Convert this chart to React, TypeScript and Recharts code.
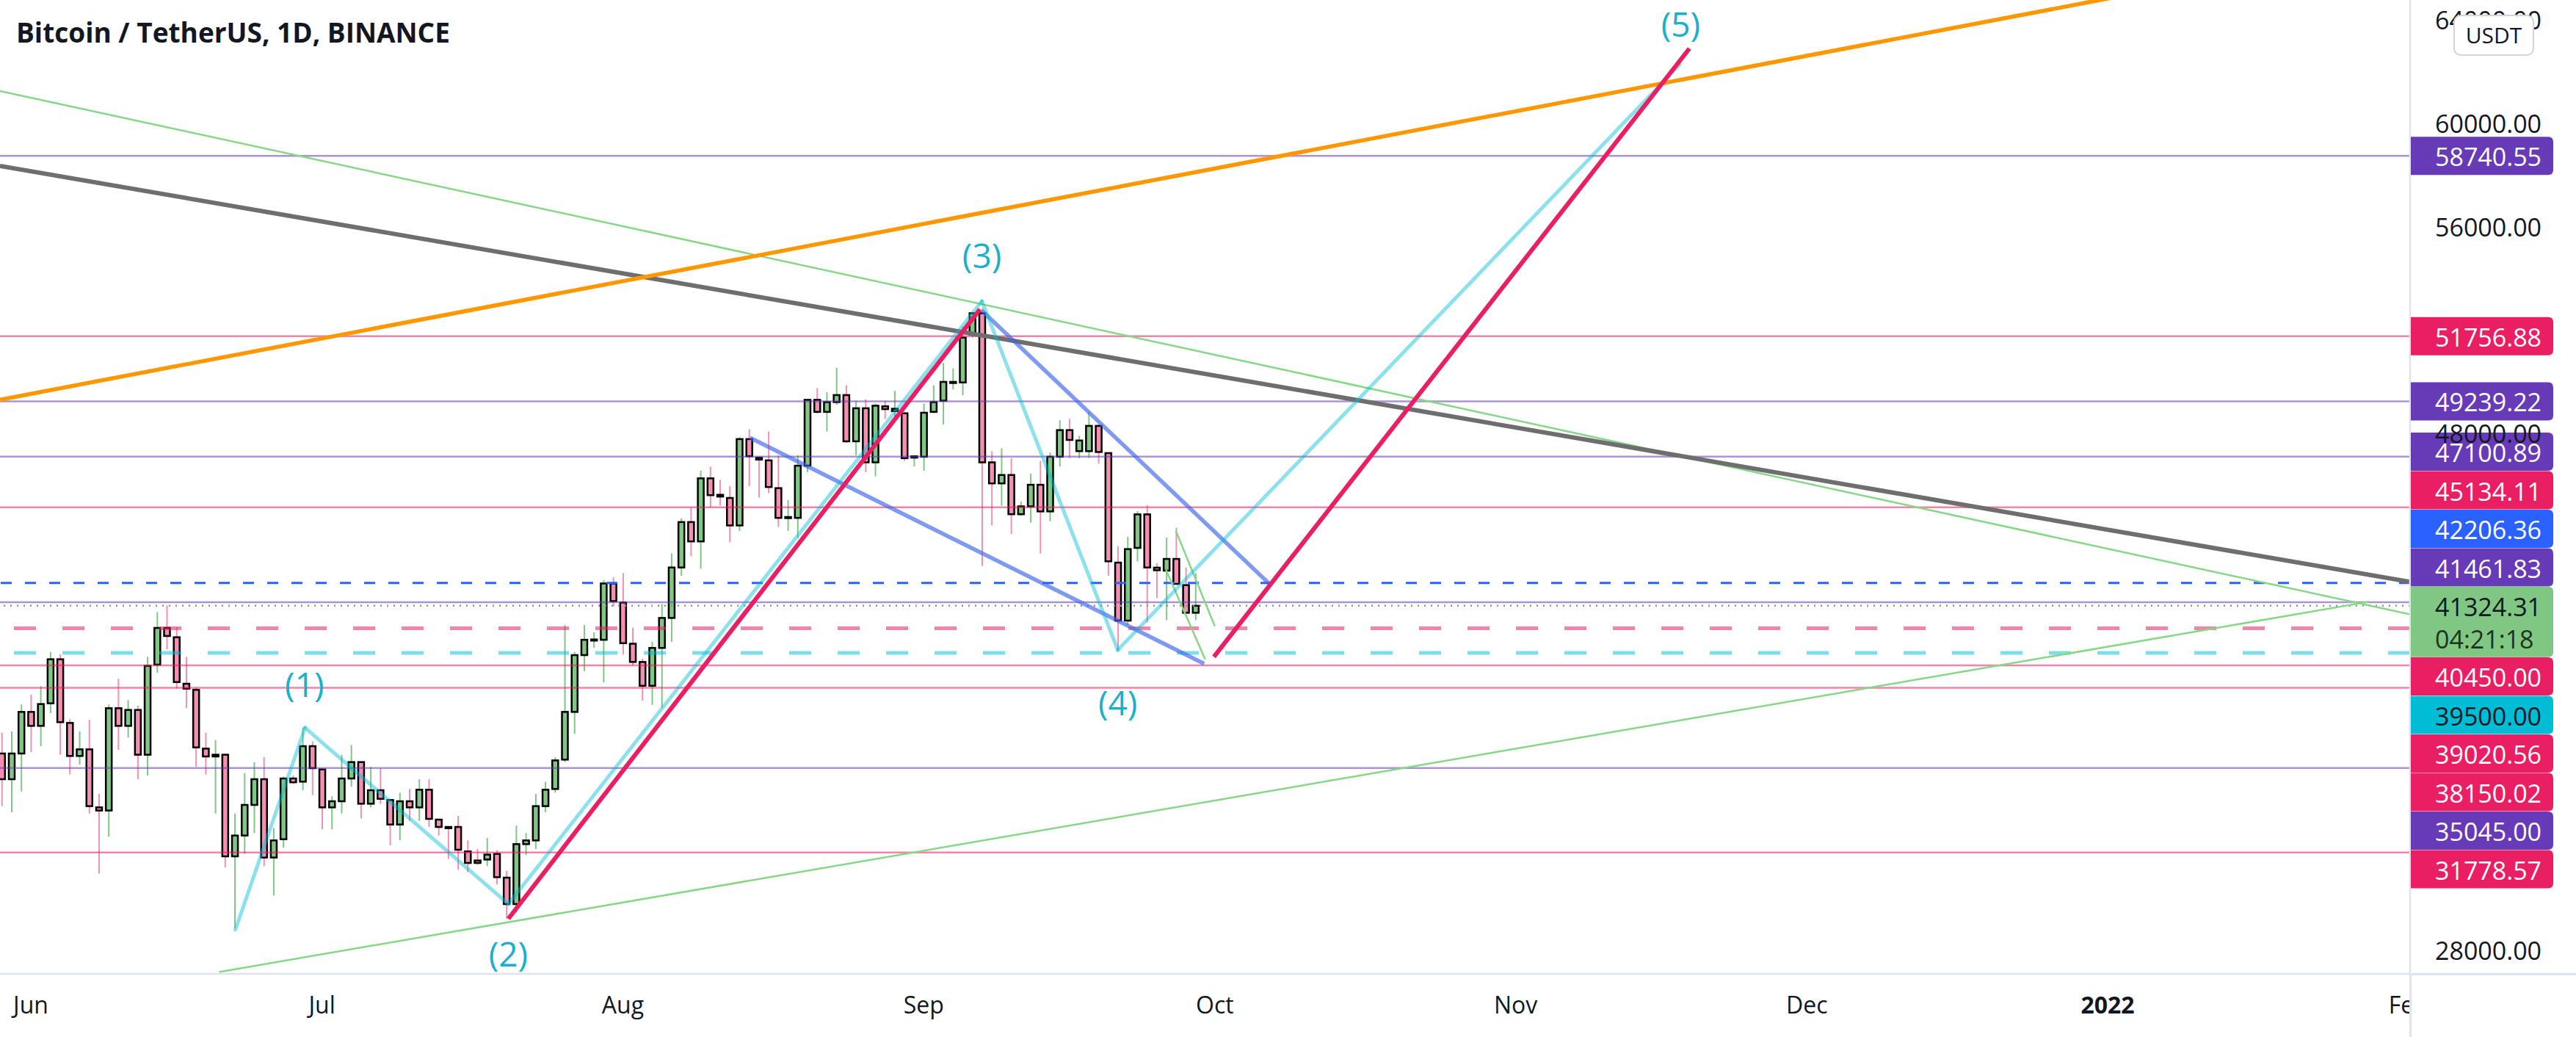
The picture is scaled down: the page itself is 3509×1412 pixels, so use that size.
import React from 'react';
import { ComposedChart, Bar, XAxis, YAxis, ReferenceLine, ReferenceDot } from 'recharts';

const W = 3509;
const H = 1412;
const AXIS_W = 226;
const AXIS_H = 86;
const PLOT_W = W - AXIS_W;
const PLOT_H = H - AXIS_H;
const X_MIN = -3.18;
const X_MAX = 245.16;
const Y_MIN = 27079;
const Y_MAX = 64771;
const FONT = '"Open Sans", "DejaVu Sans", sans-serif';
const INK = '#131722';

// day 0 = 1 Jun 2021, first visible candle is 29 May
const FIRST_DAY = -3;
const opens = [
  35607, 34612, 35607, 37217, 36677, 37550, 39255, 36790, 35512, 35768,
  33522, 33400, 37360, 36677, 37293, 35560, 39046, 40467, 40107, 38307,
  38070, 35796, 35493, 35560, 31627, 32432, 33617, 34612, 31580, 32290,
  34640, 34517, 35891, 34991, 33522, 33759, 34640, 35275, 33664, 34186,
  33806, 32859, 33759, 33522, 34205, 33048, 32764, 32764, 31817, 31466,
  31503, 31721, 30802, 29779, 32100, 32243, 33570, 34234, 35370, 37217,
  39415, 40008, 40008, 42188, 41451, 39856, 39150, 38228, 39693, 40854,
  42807, 44565, 43816, 46257, 45620, 45498, 44434, 47776, 47060, 46952,
  45878, 44727, 44727, 46746, 49295, 48829, 49208, 49480, 47690, 48970,
  46876, 49046, 48860, 48774, 47060, 47092, 48829, 49263, 49970, 49968,
  51813, 52648, 46876, 46062, 46387, 44869, 45172, 46008, 44977, 47093,
  48124, 47310, 47310, 48287, 47234, 42996, 40751, 43565, 44863, 42800,
  42684, 43138, 42125, 41054,
];
const highs = [
  36412, 36460, 37502, 37881, 38212, 39539, 39444, 36933, 36460, 36905,
  34042, 37502, 38497, 37672, 37454, 39349, 41074, 41339, 40505, 39349,
  38165, 36412, 36128, 35600, 33285, 34849, 35275, 35464, 32717, 34706,
  34760, 36602, 36080, 35038, 33949, 35559, 35938, 35300, 35086, 35038,
  33854, 34091, 34233, 34612, 34612, 33048, 32790, 33190, 32243, 31911,
  32338, 31864, 31059, 32812, 32527, 34043, 34517, 35464, 40581, 39539,
  40583, 40300, 42319, 42427, 42590, 40474, 39281, 39932, 41397, 43350,
  44706, 45140, 46550, 46713, 46200, 45954, 47852, 48156, 47093, 48069,
  47147, 45411, 47147, 49317, 49751, 49588, 50532, 49860, 49263, 49317,
  49154, 49263, 49643, 48829, 47150, 49154, 49860, 50728, 50511, 52138,
  52680, 52843, 47310, 47418, 47038, 45357, 46442, 46930, 47255, 48503,
  48558, 47906, 48829, 48341, 47255, 43631, 43991, 44986, 45223, 42968,
  43963, 44351, 42807, 42589,
];
const lows = [
  33570, 33333, 34138, 35654, 35891, 37170, 35559, 34801, 35180, 33285,
  30964, 32385, 35749, 36223, 34612, 34754, 38733, 39634, 38118, 37360,
  35086, 34801, 33285, 31201, 28832, 31722, 32527, 31248, 30111, 31959,
  34420, 34186, 33996, 32670, 32670, 33285, 34328, 33096, 33522, 33664,
  32054, 32243, 32999, 32999, 32764, 32432, 31532, 31106, 31011, 31296,
  31248, 30538, 29211, 29448, 31675, 31911, 33333, 34091, 35275, 36365,
  38793, 39700, 38359, 41288, 39444, 39010, 37653, 37490, 37382, 39932,
  42482, 43241, 42753, 45140, 45200, 43784, 44218, 45954, 45520, 45682,
  44380, 44218, 43946, 46496, 48775, 48069, 49100, 47635, 47147, 46496,
  46333, 48558, 48612, 46930, 46713, 46550, 48775, 48341, 49697, 49480,
  51700, 42861, 44434, 45194, 44109, 44814, 44543, 43350, 44597, 46713,
  47038, 47038, 47038, 46821, 42482, 39633, 40580, 43044, 40675, 41623,
  40770, 42144, 41007, 40770,
];
const closes = [
  34612, 35607, 37217, 36677, 37521, 39255, 36820, 35512, 35768, 33570,
  33400, 37360, 36677, 37293, 35560, 39000, 40467, 40155, 38373, 38117,
  35843, 35493, 35560, 31627, 32432, 33617, 34612, 31580, 32243, 34640,
  34494, 35891, 35038, 33522, 33759, 34640, 35275, 33664, 34186, 33854,
  32859, 33759, 33522, 34205, 33077, 32764, 32717, 31883, 31371, 31371,
  31693, 30821, 29779, 32100, 32243, 33570, 34205, 35340, 37217, 39415,
  40008, 40020, 42188, 41505, 39877, 39150, 38228, 39693, 40854, 42807,
  44565, 43816, 46257, 45606, 45552, 44434, 47776, 47114, 46985, 45921,
  44727, 44760, 46746, 49295, 48829, 49208, 49480, 47690, 48970, 46876,
  49068, 48937, 48950, 47038, 47110, 48796, 49208, 49990, 49990, 51704,
  52648, 46876, 46062, 46387, 44869, 45172, 46008, 44977, 47093, 48124,
  47744, 47722, 48287, 47277, 43046, 40751, 43518, 44863, 42807, 42700,
  43138, 42172, 41054, 41324.31,
];

const monthDays = [0, 30, 61, 92, 122, 153, 183, 214, 245];
const monthLabels = ['Jun', 'Jul', 'Aug', 'Sep', 'Oct', 'Nov', 'Dec', '2022', 'Feb'];
const priceTicks = [28000, 48000, 56000, 60000, 64000];

// horizontal levels, top to bottom
const levelPrices = [
  58740.55, 51756.88, 49239.22, 47100.89, 45134.11, 42206.36, 41461.83,
  41324.31, 40450.0, 39500.0, 39020.56, 38150.02, 35045.0, 31778.57,
];
const levelColors = [
  'purple', 'pink', 'purple', 'purple', 'pink', 'blue', 'purple',
  'last', 'pink', 'cyan', 'pink', 'pink', 'purple', 'pink',
];
const levelLines = [
  'solid', 'solid', 'solid', 'solid', 'solid', 'dash', 'solid',
  'dot', 'wide', 'wide', 'solid', 'solid', 'solid', 'solid',
];
const countdown = '04:21:18';

// elliott wave labels
const waveNames = ['(1)', '(2)', '(3)', '(4)', '(5)'];
const waveDays = [28.2, 49.2, 98, 112, 170];
const wavePrices = [38300, 27870, 54900, 37600, 63850];

// the light cyan wave path
const wavePathDays = [21.07, 28.25, 49.2, 98, 112, 169.9];
const wavePathPrices = [28785, 36602, 29780, 53115, 39614, 62270];

// trend lines, [day, price] pairs
const orangeLine = [[-3.18, 49300], [230, 65970]];
const grayLine = [[-3.18, 58350], [245.16, 42250]];
const greenUpper = [[-3.18, 61250], [245.16, 40990]];
const greenLower = [[19.4, 27150], [240.9, 41480]];
const greenShortA = [[117.98, 44228], [122.0, 40533]];
const greenShortB = [[116.97, 42712], [121.0, 39254]];
const redFirst = [[49.2, 29210], [97.8, 52800]];
const redSecond = [[121.9, 39350], [170.9, 62895]];
const blueUpper = [[98, 52750], [127.7, 42144]];
const blueLower = [[74.1, 47830], [120.9, 39080]];

const candles = opens.map((o, i) => ({
  day: FIRST_DAY + i,
  open: o,
  high: highs[i],
  low: lows[i],
  close: closes[i],
  range: [lows[i], highs[i]],
}));

const TAG_BG: Record<string, string> = {
  purple: '#673ab7', pink: '#e91e63', blue: '#2962ff', cyan: '#00bcd4', last: '#81c784',
};
const TAG_TEXT: Record<string, string> = {
  purple: '#ffffff', pink: '#ffffff', blue: '#ffffff', cyan: INK, last: INK,
};
const LEVEL_STROKE: Record<string, string> = {
  purple: 'rgba(103,58,183,0.55)', pink: 'rgba(233,30,99,0.55)', blue: '#2962ff',
  cyan: 'rgba(0,188,212,0.5)', last: '#7f9f80',
};
const DASH: Record<string, string | undefined> = { solid: undefined, dash: '15 18', wide: '30 36', dot: '2 7' };
const LINE_W: Record<string, number> = { solid: 2.5, dash: 3, wide: 5, dot: 2.5 };

// price tags get pushed apart around the last price, like the price scale does
const UNIT = PLOT_H / (Y_MAX - Y_MIN);
const TAG_H = 52.5;
const lastIdx = levelColors.indexOf('last');
const tagPrices = levelPrices.slice();
for (let i = lastIdx - 1; i >= 0; i--) {
  const limit = i === lastIdx - 1
    ? tagPrices[lastIdx] + (26 + TAG_H / 2) / UNIT
    : tagPrices[i + 1] + TAG_H / UNIT;
  tagPrices[i] = Math.max(levelPrices[i], limit);
}
for (let i = lastIdx + 1; i < levelPrices.length; i++) {
  const limit = i === lastIdx + 1
    ? tagPrices[lastIdx] - (70 + TAG_H / 2) / UNIT
    : tagPrices[i - 1] - TAG_H / UNIT;
  tagPrices[i] = Math.min(levelPrices[i], limit);
}

const tagPath = (x: number, top: number, w: number, h: number, r: number) =>
  `M${x},${top} H${x + w - r} Q${x + w},${top} ${x + w},${top + r} V${top + h - r} Q${x + w},${top + h} ${x + w - r},${top + h} H${x} Z`;

const Candle = (props: any) => {
  const { x, y, width, height, payload } = props;
  if (!payload) return null;
  const { open, close, high, low } = payload;
  const up = close >= open;
  const top0 = Math.min(y, y + height);
  const hh = Math.abs(height);
  const cx = x + width / 2;
  const k = hh / (high - low || 1);
  const yOf = (v: number) => top0 + (high - v) * k;
  const bTop = yOf(Math.max(open, close));
  const bBot = yOf(Math.min(open, close));
  return (
    <g>
      <line x1={cx} x2={cx} y1={top0} y2={top0 + hh} stroke={up ? '#81c784' : '#f48fb1'} strokeWidth={2} />
      <rect x={cx - 4} y={bTop} width={8} height={Math.max(bBot - bTop, 1.5)}
        fill={up ? '#81c784' : '#f48fb1'} stroke="#000" strokeWidth={2.5} />
    </g>
  );
};

const MonthTick = (props: any) => {
  const { x, payload } = props;
  const label = monthLabels[monthDays.indexOf(payload.value)];
  return (
    <svg x={0} y={PLOT_H} width={PLOT_W} height={AXIS_H} overflow="hidden">
      <text x={x} y={41} textAnchor="middle" dominantBaseline="central" fontSize={32}
        fontWeight={label === '2022' ? 700 : 400} fill={INK} fontFamily={FONT}>{label}</text>
    </svg>
  );
};

const PriceTick = (props: any) => (
  <text x={PLOT_W + 34} y={props.y} dominantBaseline="central" fontSize={34} fill={INK} fontFamily={FONT}>
    {Number(props.payload.value).toFixed(2)}
  </text>
);

const seg = (pts: number[][]) => [{ x: pts[0][0], y: pts[0][1] }, { x: pts[1][0], y: pts[1][1] }];

const trendLines = [
  { pts: greenUpper, stroke: '#86d786', w: 2.5 },
  { pts: greenLower, stroke: '#86d786', w: 2.5 },
  { pts: greenShortA, stroke: '#86d786', w: 2.5 },
  { pts: greenShortB, stroke: '#86d786', w: 2.5 },
  { pts: grayLine, stroke: '#6e6e6e', w: 6 },
  { pts: orangeLine, stroke: '#ff9800', w: 5.5 },
  { pts: blueUpper, stroke: 'rgba(60,100,235,0.65)', w: 5.5 },
  { pts: blueLower, stroke: 'rgba(60,100,235,0.65)', w: 5.5 },
];

export default function App() {
  return (
    <div style={{ position: 'absolute', left: 0, top: 0, width: W, height: H, background: '#fff', overflow: 'hidden', fontFamily: FONT }}>
      <ComposedChart width={W} height={H} data={candles} margin={{ top: 0, right: 0, bottom: 0, left: 0 }}>
        <XAxis dataKey="day" type="number" domain={[X_MIN, X_MAX]} allowDataOverflow ticks={monthDays}
          interval={0} tick={(p: any) => <MonthTick {...p} />} tickLine={false} height={AXIS_H}
          axisLine={{ stroke: '#e0e3eb', strokeWidth: 2.5 }} />
        <YAxis orientation="right" type="number" domain={[Y_MIN, Y_MAX]} allowDataOverflow ticks={priceTicks}
          interval={0} tick={(p: any) => <PriceTick {...p} />} tickLine={false} width={AXIS_W}
          axisLine={{ stroke: '#e0e3eb', strokeWidth: 2.5 }} />

        {levelPrices.map((p, i) => (
          <ReferenceLine key={'lv' + i} y={p} ifOverflow="hidden" stroke={LEVEL_STROKE[levelColors[i]]}
            strokeWidth={LINE_W[levelLines[i]]} strokeDasharray={DASH[levelLines[i]]} />
        ))}

        <Bar dataKey="range" barSize={10} isAnimationActive={false} shape={(p: any) => <Candle {...p} />} />

        {trendLines.map((t, i) => (
          <ReferenceLine key={'tl' + i} segment={seg(t.pts)} ifOverflow="hidden" stroke={t.stroke} strokeWidth={t.w} />
        ))}
        {wavePathDays.slice(1).map((d, i) => (
          <ReferenceLine key={'wv' + i} ifOverflow="hidden" stroke="rgba(0,188,212,0.45)" strokeWidth={5} strokeLinecap="round"
            segment={[{ x: wavePathDays[i], y: wavePathPrices[i] }, { x: d, y: wavePathPrices[i + 1] }]} />
        ))}
        <ReferenceLine segment={seg(redFirst)} ifOverflow="hidden" stroke="#e91e63" strokeWidth={6} />
        <ReferenceLine segment={seg(redSecond)} ifOverflow="hidden" stroke="#e91e63" strokeWidth={6} />

        {waveNames.map((n, i) => (
          <ReferenceDot key={'wn' + i} x={waveDays[i]} y={wavePrices[i]} r={0}
            shape={(p: any) => (
              <text x={p.cx} y={p.cy} textAnchor="middle" dominantBaseline="central" fontSize={46}
                fill="#1ab0c9" fontFamily={FONT}>{n}</text>
            )} />
        ))}

        {levelPrices.map((p, i) => {
          const kind = levelColors[i];
          const isLast = kind === 'last';
          return (
            <ReferenceDot key={'tg' + i} x={X_MAX} y={tagPrices[i]} r={0}
              shape={(s: any) => (
                <g>
                  <path d={tagPath(s.cx + 1, s.cy - 26, 194, isLast ? 96 : 52, 7)} fill={TAG_BG[kind]} />
                  <text x={s.cx + 34} y={s.cy + 1} dominantBaseline="central" fontSize={34}
                    fill={TAG_TEXT[kind]} fontFamily={FONT}>{p.toFixed(2)}</text>
                  {isLast && (
                    <text x={s.cx + 34} y={s.cy + 45} dominantBaseline="central" fontSize={34}
                      fill="#1e3320" fontFamily={FONT}>{countdown}</text>
                  )}
                </g>
              )} />
          );
        })}
      </ComposedChart>

      <div style={{ position: 'absolute', left: 22, top: 25, fontSize: 37, fontWeight: 700, lineHeight: 1, color: INK, whiteSpace: 'nowrap' }}>
        Bitcoin / TetherUS, 1D, BINANCE
      </div>
      <div style={{ position: 'absolute', left: 3342, top: 20, width: 106, height: 52, border: '2px solid #d1d4dc', borderRadius: 10,
        background: '#fff', fontSize: 30, lineHeight: '52px', textAlign: 'center', color: INK }}>
        USDT
      </div>
      <div style={{ position: 'absolute', left: PLOT_W, top: PLOT_H - 1, width: AXIS_W, height: 2.5, background: '#e0e3eb' }} />
      <div style={{ position: 'absolute', left: PLOT_W - 1, top: PLOT_H, width: 2.5, height: AXIS_H, background: '#e0e3eb' }} />
    </div>
  );
}
